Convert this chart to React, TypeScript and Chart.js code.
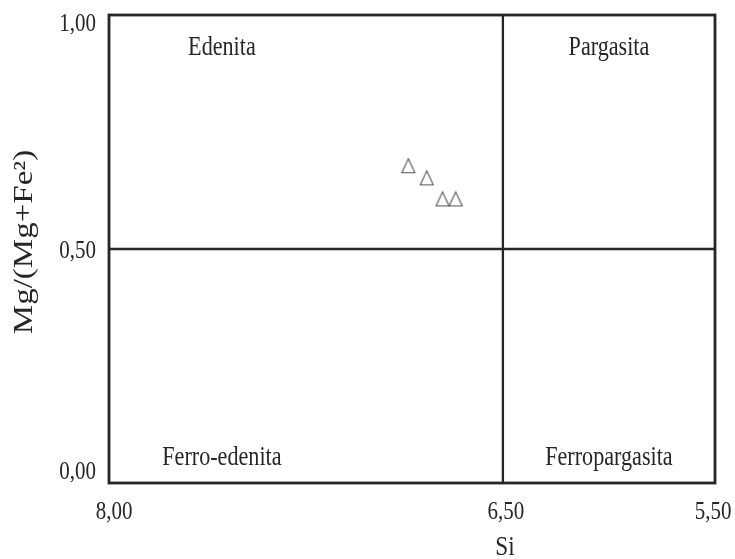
import { useEffect, useRef } from 'react';
import { Chart, registerables, LinearScale } from 'chart.js';

// Si (apfu) and Mg/(Mg+Fe2) of the analysed amphiboles
const siValues = [6.86, 6.79, 6.73, 6.68];
const mgValues = [0.678, 0.652, 0.607, 0.607];

// Axis ticks and field boundaries
const siTicks = [8.0, 6.5, 5.5];
const mgTicks = [0.0, 0.5, 1.0];
const siBoundary = 6.5;
const mgBoundary = 0.5;

// Field names and where they are written (Si, Mg/(Mg+Fe2))
const fieldNames = ['Edenita', 'Pargasita', 'Ferro-edenita', 'Ferropargasita'];
const fieldSi = [7.57, 6.0, 7.57, 6.0];
const fieldMg = [0.914, 0.914, 0.038, 0.038];

// The Si axis is drawn in two linear segments: 8.0-6.5 fills 65 % of the width
const siKnots = [
  { value: 8.0, at: 0 },
  { value: 6.5, at: 0.65 },
  { value: 5.5, at: 1 },
];

class SegmentedScale extends LinearScale {
  static id = 'segmented';

  getPixelForValue(value: number) {
    if (value === null || value === undefined || isNaN(value)) return NaN;
    let frac = 0;
    for (let i = 0; i < siKnots.length - 1; i++) {
      const a = siKnots[i];
      const b = siKnots[i + 1];
      const lo = Math.min(a.value, b.value);
      const hi = Math.max(a.value, b.value);
      if ((value >= lo && value <= hi) || i === siKnots.length - 2) {
        frac = a.at + ((value - a.value) / (b.value - a.value)) * (b.at - a.at);
        break;
      }
    }
    return this.getPixelForDecimal(frac);
  }

  getValueForPixel(pixel: number) {
    const d = this.getDecimalForPixel(pixel);
    for (let i = 0; i < siKnots.length - 1; i++) {
      const a = siKnots[i];
      const b = siKnots[i + 1];
      if ((d >= a.at && d <= b.at) || i === siKnots.length - 2) {
        return a.value + ((d - a.at) / (b.at - a.at)) * (b.value - a.value);
      }
    }
    return siKnots[0].value;
  }
}

Chart.register(...registerables, SegmentedScale);

const FONT = '"Liberation Serif", "Times New Roman", serif';
const INK = '#262626';
const LINE = '#262626';

function drawLabel(
  ctx: CanvasRenderingContext2D,
  text: string,
  x: number,
  y: number,
  size: number,
  align: CanvasTextAlign,
  sx: number,
  rotate = 0,
) {
  ctx.save();
  ctx.translate(x, y);
  if (rotate) {
    ctx.rotate(rotate);
    ctx.scale(1, sx);
  } else {
    ctx.scale(sx, 1);
  }
  ctx.font = `${size}px ${FONT}`;
  ctx.fillStyle = INK;
  ctx.textAlign = align;
  ctx.textBaseline = rotate ? 'middle' : 'alphabetic';
  ctx.fillText(text, 0, 0);
  ctx.restore();
}

const clamp = (v: number, lo: number, hi: number) => Math.max(lo, Math.min(hi, v));
const fmt = (v: number) => v.toFixed(2).replace('.', ',');

const diagramPlugin = {
  id: 'amphiboleFields',
  beforeDatasetsDraw(chart: any) {
    const { ctx, chartArea: a, scales } = chart;
    const xs = scales.x;
    const ys = scales.y;
    ctx.save();
    ctx.strokeStyle = LINE;
    // field boundaries
    ctx.lineWidth = 2.3;
    const bx = xs.getPixelForValue(siBoundary);
    const by = ys.getPixelForValue(mgBoundary);
    ctx.beginPath();
    ctx.moveTo(bx, a.top);
    ctx.lineTo(bx, a.bottom);
    ctx.moveTo(a.left, by);
    ctx.lineTo(a.right, by);
    ctx.stroke();
    // frame
    ctx.lineWidth = 2.8;
    ctx.strokeRect(a.left, a.top, a.right - a.left, a.bottom - a.top);
    ctx.restore();
  },
  afterDraw(chart: any) {
    const { ctx, chartArea: a, scales } = chart;
    const xs = scales.x;
    const ys = scales.y;

    // y tick labels
    mgTicks.forEach((v) => {
      const c = clamp(ys.getPixelForValue(v), a.top + 7, a.bottom - 13);
      drawLabel(ctx, fmt(v), a.left - 13, c + 8.5, 25, 'right', 0.84);
    });
    // x tick labels
    siTicks.forEach((v) => {
      const c = clamp(xs.getPixelForValue(v) + 3, a.left + 5, a.right - 2);
      drawLabel(ctx, fmt(v), c, a.bottom + 36, 25, 'center', 0.84);
    });

    // axis titles
    drawLabel(ctx, 'Si', xs.getPixelForValue(siBoundary) + 2, a.bottom + 72, 27, 'center', 0.86);
    drawLabel(ctx, 'Mg/(Mg+Fe²)', 25, (a.top + a.bottom) / 2 - 7, 33, 'center', 0.8, -Math.PI / 2);

    // field names
    fieldNames.forEach((name, i) => {
      drawLabel(ctx, name, xs.getPixelForValue(fieldSi[i]), ys.getPixelForValue(fieldMg[i]), 27, 'center', 0.82);
    });
  },
};

function makeTriangle() {
  const c = document.createElement('canvas');
  c.width = 16;
  c.height = 17;
  const g = c.getContext('2d')!;
  g.strokeStyle = '#555';
  g.lineWidth = 1.1;
  g.beginPath();
  g.moveTo(8, 1.5);
  g.lineTo(14.5, 15.5);
  g.lineTo(1.5, 15.5);
  g.closePath();
  g.stroke();
  return c;
}

export default function App() {
  const canvasRef = useRef<HTMLCanvasElement | null>(null);

  useEffect(() => {
    const canvas = canvasRef.current;
    if (!canvas) return;
    const triangle = makeTriangle();
    const chart = new Chart(canvas, {
      type: 'scatter',
      data: {
        datasets: [
          {
            data: siValues.map((x, i) => ({ x, y: mgValues[i] })),
            pointStyle: triangle as any,
            pointRadius: 8,
            borderColor: '#555',
            backgroundColor: 'transparent',
          },
        ],
      },
      options: {
        responsive: false,
        animation: false,
        events: [],
        layout: { padding: { top: 15, right: 20, left: 0, bottom: 0 } },
        plugins: {
          legend: { display: false },
          tooltip: { enabled: false },
        },
        scales: {
          x: {
            type: 'segmented' as any,
            min: 5.5,
            max: 8.0,
            grid: { display: false },
            border: { display: false },
            ticks: { display: false },
            afterBuildTicks: (s: any) => {
              s.ticks = siTicks.map((value) => ({ value }));
            },
            afterFit: (s: any) => {
              s.height = 76;
            },
          },
          y: {
            type: 'linear',
            min: 0,
            max: 1,
            grid: { display: false },
            border: { display: false },
            ticks: { display: false },
            afterBuildTicks: (s: any) => {
              s.ticks = mgTicks.map((value) => ({ value }));
            },
            afterFit: (s: any) => {
              s.width = 109;
            },
          },
        },
      },
      plugins: [diagramPlugin],
    });
    return () => chart.destroy();
  }, []);

  return (
    <div style={{ position: 'absolute', left: 0, top: 0, width: 735, height: 559, background: '#fff' }}>
      <canvas ref={canvasRef} width={735} height={559} />
    </div>
  );
}
